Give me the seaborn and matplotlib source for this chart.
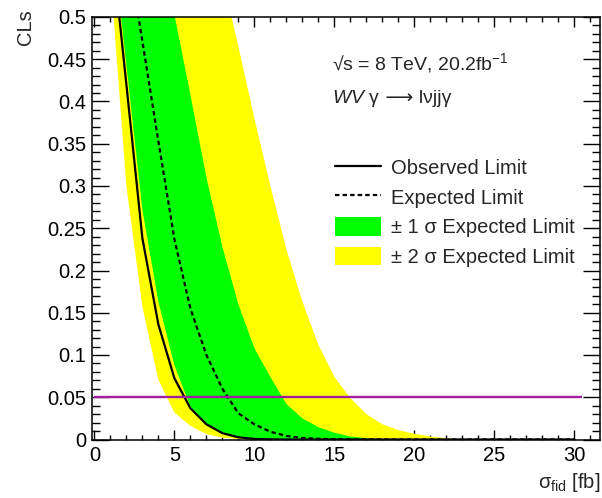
import matplotlib
matplotlib.use("Agg")
import matplotlib.pyplot as plt
from matplotlib.lines import Line2D
from matplotlib.patches import Patch
from matplotlib.ticker import MultipleLocator, FormatStrFormatter
import pandas as pd
import seaborn as sns

# Scan points of the fiducial cross section [fb]
sigma_fid = [0, 1, 2, 3, 4, 5, 6, 7, 8, 9, 10, 11, 12, 13, 14, 15,
             16, 17, 18, 19, 20, 21, 22, 23, 24, 25, 26, 27, 28, 29, 30]

# CLs values
cls_observed = [1.0, 0.60, 0.42, 0.238, 0.136, 0.0725, 0.037, 0.018, 0.0075, 0.0026,
                0.0007, 0.0002, 0, 0, 0, 0, 0, 0, 0, 0, 0, 0, 0, 0, 0, 0, 0, 0, 0, 0, 0]
cls_expected = [1.0, 0.72, 0.59, 0.471, 0.353, 0.237, 0.155, 0.100, 0.060, 0.031,
                0.018, 0.0092, 0.0042, 0.0018, 0.0008, 0.0003, 0.0001, 0, 0, 0, 0,
                0, 0, 0, 0, 0, 0, 0, 0, 0, 0]
band1_low = [1.0, 0.614, 0.443, 0.272, 0.163, 0.088, 0.039, 0.0185, 0.0085, 0.003,
             0.001, 0.0003, 0, 0, 0, 0, 0, 0, 0, 0, 0, 0, 0, 0, 0, 0, 0, 0, 0, 0, 0]
band1_high = [1.0, 0.92, 0.80, 0.70, 0.60, 0.503, 0.408, 0.31, 0.228, 0.16,
              0.108, 0.074, 0.042, 0.025, 0.0145, 0.008, 0.0036, 0.0015, 0.0006, 0.0002,
              0, 0, 0, 0, 0, 0, 0, 0, 0, 0, 0]
band2_low = [1.0, 0.55, 0.30, 0.157, 0.0705, 0.032, 0.016, 0.0065, 0.002, 0.0005,
             0.0001, 0, 0, 0, 0, 0, 0, 0, 0, 0, 0, 0, 0, 0, 0, 0, 0, 0, 0, 0, 0]
band2_high = [1.0, 0.97, 0.92, 0.86, 0.80, 0.74, 0.68, 0.615, 0.547, 0.465,
              0.38, 0.30, 0.225, 0.163, 0.112, 0.074, 0.049, 0.03, 0.018, 0.011,
              0.0068, 0.0035, 0.0015, 0.0005, 0.0001, 0, 0, 0, 0, 0, 0]

cls_threshold = 0.05
threshold_span = [0.0, 30.5]

legend_labels = ["Observed Limit", "Expected Limit",
                 "± 1 σ Expected Limit", "± 2 σ Expected Limit"]

df = pd.DataFrame({"sigma": sigma_fid, "obs": cls_observed, "exp": cls_expected,
                   "b1lo": band1_low, "b1hi": band1_high,
                   "b2lo": band2_low, "b2hi": band2_high})

sns.set_style("ticks")
plt.rcParams["font.family"] = ["Liberation Sans", "DejaVu Sans"]
plt.rcParams["mathtext.fontset"] = "custom"
plt.rcParams["mathtext.rm"] = "Liberation Sans"
plt.rcParams["mathtext.it"] = "Liberation Sans:italic"
plt.rcParams["mathtext.default"] = "regular"

FS = 14.5
GREEN = "#00ff00"
YELLOW = "#ffff00"

fig = plt.figure(figsize=(6.02, 4.98), dpi=100)
ax = fig.add_axes([92 / 602, 1 - 439.5 / 498, 508 / 602, 422.5 / 498])

ax.fill_between(df["sigma"], df["b2lo"], df["b2hi"], color=YELLOW, lw=0, zorder=1)
ax.fill_between(df["sigma"], df["b1lo"], df["b1hi"], color=GREEN, lw=0, zorder=2)

sns.lineplot(data=df, x="sigma", y="exp", ax=ax, color="black", lw=1.6,
             linestyle=(0, (2.0, 1.4)), zorder=3)
sns.lineplot(data=df, x="sigma", y="obs", ax=ax, color="black", lw=1.6, zorder=4)

ax.hlines(cls_threshold, threshold_span[0], threshold_span[1],
          color="#a01ea0", lw=1.7, zorder=5)

ax.set_xlim(-0.15, 31.6)
ax.set_ylim(0, 0.5)

ax.xaxis.set_major_locator(MultipleLocator(5))
ax.xaxis.set_minor_locator(MultipleLocator(1))
ax.yaxis.set_major_locator(MultipleLocator(0.05))
ax.yaxis.set_minor_locator(MultipleLocator(0.01))
ax.xaxis.set_major_formatter(FormatStrFormatter("%g"))
ax.yaxis.set_major_formatter(FormatStrFormatter("%g"))

ax.tick_params(which="both", direction="in", top=True, right=True,
               width=1.0, color="black", labelsize=FS, labelcolor="black")
ax.tick_params(axis="x", which="major", length=7.2, pad=5)
ax.tick_params(axis="x", which="minor", length=3.6)
ax.tick_params(axis="y", which="major", length=12, pad=4)
ax.tick_params(axis="y", which="minor", length=6)

for sp in ax.spines.values():
    sp.set_linewidth(1.1)
    sp.set_color("black")
    sp.set_visible(True)

ax.set_xlabel("σ$_{\\mathrm{fid}}$ [fb]", fontsize=FS, loc="right", labelpad=4)
ax.set_ylabel("CLs", fontsize=FS, loc="top")
ax.yaxis.set_label_coords(-0.112, 1.019)

ax.text(0.472, 0.890, "√s = 8 TeV, 20.2fb$^{-1}$", transform=ax.transAxes,
        fontsize=14, va="center", ha="left")
process = ax.text(0.472, 0.807, "$\\mathit{WV}$ γ", transform=ax.transAxes,
                  fontsize=14, va="center", ha="left")
ax.annotate(" ⟶ lνjjγ", xy=(1.0, 0.5), xycoords=process, fontsize=14,
            va="center", ha="left", family=["Liberation Sans", "DejaVu Sans"])

handles = [Line2D([], [], color="black", lw=1.6),
           Line2D([], [], color="black", lw=1.6, linestyle=(0, (2.0, 1.4))),
           Patch(facecolor=GREEN, edgecolor="none"),
           Patch(facecolor=YELLOW, edgecolor="none")]
ax.legend(handles, legend_labels, loc="upper left", bbox_to_anchor=(0.478, 0.667),
          frameon=False, fontsize=FS, handlelength=2.3, handleheight=1.05,
          handletextpad=0.5, labelspacing=0.47, borderpad=0, borderaxespad=0)

fig.savefig("out.png", dpi=100)
